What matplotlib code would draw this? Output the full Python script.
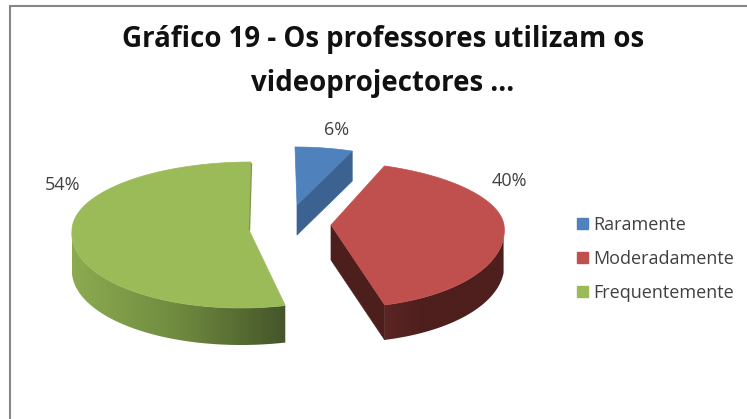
import numpy as np
import matplotlib
matplotlib.use("Agg")
import matplotlib.pyplot as plt
from matplotlib.patches import Polygon, Patch
from matplotlib.colors import LinearSegmentedColormap

# chart data
categories = ["Raramente", "Moderadamente", "Frequentemente"]
percent = [6, 40, 54]
title_lines = ["Gráfico 19 - Os professores utilizam os", "videoprojectores ..."]

# look of each slice (pixel units): apex, radii, skew at back/front, height
top_colors = ["#4F81BD", "#C0504D", "#9BBB59"]
apex = [(297, 205), (331, 225), (249, 230)]
radius_x = [155, 173, 177]
radius_back = [58, 63.5, 68]
radius_front = [58, 82.5, 78]
skew_back = [-2, -11, 2]
skew_front = [0, -11, 8]
height = [30, 35, 37]
label_pos = [(337, 130), (509, 181), (63, 185)]

plt.rcParams["font.family"] = ["Open Sans", "DejaVu Sans"]

fig = plt.figure(figsize=(7.47, 4.19), dpi=100)
ax = fig.add_axes([0, 0, 1, 1])
ax.axis("off")


def rim(i, theta):
    # clockwise angle from the back of the pie -> picture position
    u, v = np.sin(theta), np.cos(theta)
    cx, cy = apex[i]
    skew = np.where(v > 0, skew_back[i], skew_front[i])
    ry = np.where(v > 0, radius_back[i], radius_front[i])
    return cx + radius_x[i] * u + skew * v, cy - ry * v


def wall(i, a, b, colors):
    # outer wall of a slice: horizontal gradient clipped to the wall outline
    t = np.linspace(a, b, 100)
    x, y = rim(i, t)
    pts = list(zip(x, y)) + list(zip(x[::-1], y[::-1] + height[i]))
    poly = Polygon(pts, fc="none", ec="none")
    ax.add_patch(poly)
    cmap = LinearSegmentedColormap.from_list("wall", colors)
    grad = np.linspace(0, 1, 256).reshape(1, -1)
    im = ax.imshow(grad, cmap=cmap, aspect="auto", interpolation="bilinear",
                   extent=(x.min(), x.max(), y.max() + height[i], y.min()))
    im.set_clip_path(poly)


edges = np.cumsum([0] + percent) / 100 * 2 * np.pi

# blue: cut face on its right side
x, y = rim(0, edges[1])
cx, cy = apex[0]
ax.add_patch(Polygon([(cx, cy), (x, y), (x, y + height[0]), (cx, cy + height[0])],
                     fc="#3B6291", ec="#3B6291", lw=0.5))

# red: cut face on the left, outer wall in front
x, y = rim(1, edges[2])
cx, cy = apex[1]
ax.add_patch(Polygon([(cx, cy), (x, y), (x, y + height[1]), (cx, cy + height[1])],
                     fc="#4C1F1D", ec="#4C1F1D", lw=0.5))
wall(1, edges[2], np.pi * 0.55, ["#5A2523", "#4E1F1D", "#4E1F1D", "#4E1F1D"])

# green: outer wall in front, thin dark edge at the back cut
wall(2, np.pi * 1.5, edges[2], ["#8CAB50", "#6F8A3F", "#45552A"])
x, y = rim(2, edges[3])
cx, cy = apex[2]
ax.plot([x + 0.5, cx + 0.5], [y + 2, cy], color="#7F9A48", lw=1)

# top faces
for i in range(3):
    t = np.linspace(edges[i], edges[i + 1], 120)
    x, y = rim(i, t)
    pts = [apex[i]] + list(zip(x, y))
    ax.add_patch(Polygon(pts, fc=top_colors[i], ec=top_colors[i], lw=0.5))

ax.set_xlim(0, 747)
ax.set_ylim(419, 0)

for v, p in zip(percent, label_pos):
    ax.text(p[0], p[1], f"{v}%", ha="center", va="center", fontsize=13, color="#404040")

ax.text(383, 40, title_lines[0], ha="center", va="center", fontsize=19.9, fontweight="bold", color="#111111")
ax.text(383, 84, title_lines[1], ha="center", va="center", fontsize=19.9, fontweight="bold", color="#111111")

# frame of the chart area
ax.plot([10, 10], [419, 6], color="#868686", lw=1.5, solid_capstyle="butt")
ax.plot([9, 747], [6, 6], color="#868686", lw=1.5, solid_capstyle="butt")

handles = [Patch(fc=c, ec=c) for c in top_colors]
ax.legend(handles, categories, loc="upper left", bbox_to_anchor=(577 / 747, 1 - 216 / 419),
          frameon=False, fontsize=13, labelcolor="#404040", handlelength=0.6, handleheight=0.6,
          labelspacing=0.88, handletextpad=0.3, borderpad=0, borderaxespad=0)

fig.savefig("out.png", dpi=100)
